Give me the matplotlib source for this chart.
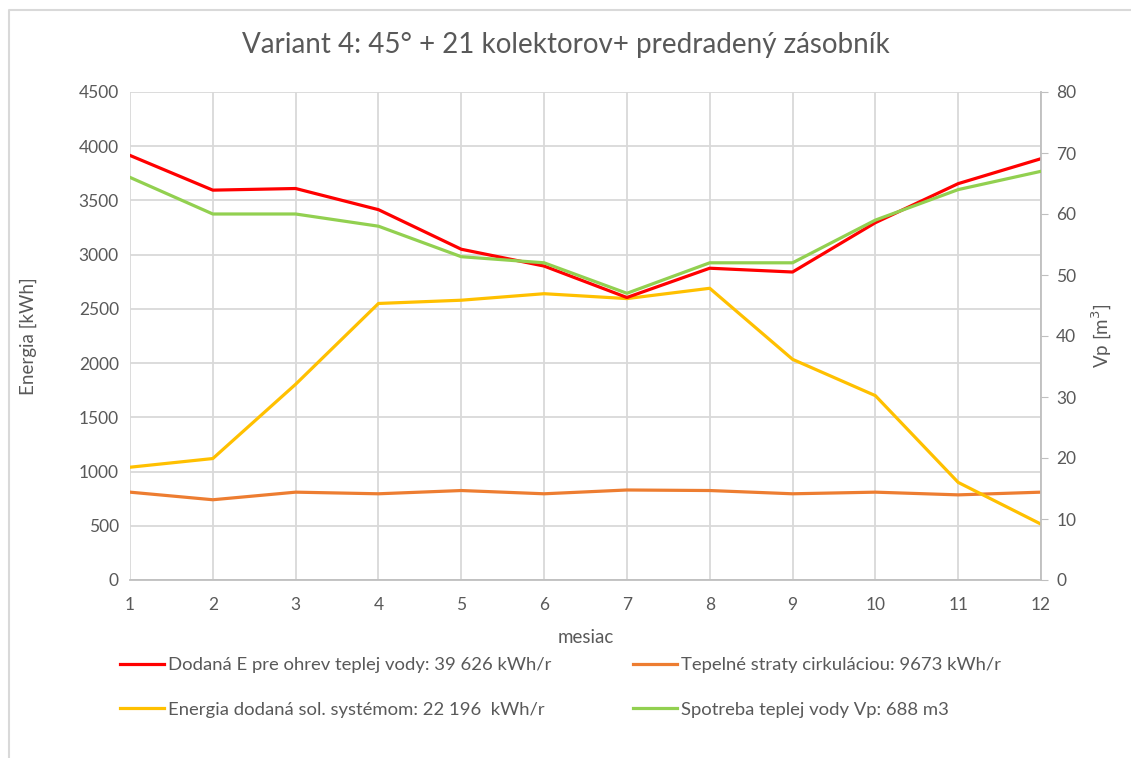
import matplotlib.pyplot as plt
from matplotlib.lines import Line2D

# data
mesiac = [1, 2, 3, 4, 5, 6, 7, 8, 9, 10, 11, 12]
dodana_e = [3915, 3595, 3610, 3415, 3050, 2895, 2605, 2875, 2840, 3295, 3655, 3885]
straty_cirk = [810, 740, 810, 795, 825, 795, 830, 825, 795, 810, 785, 810]
sol_system = [1040, 1120, 1805, 2550, 2580, 2640, 2595, 2690, 2035, 1700, 900, 515]
spotreba_vp = [66, 60, 60, 58, 53, 52, 47, 52, 52, 59, 64, 67]

legend_labels = [
    'Dodaná E pre ohrev teplej vody: 39 626 kWh/r',
    'Energia dodaná sol. systémom: 22 196  kWh/r',
    'Tepelné straty cirkuláciou: 9673 kWh/r',
    'Spotreba teplej vody Vp: 688 m3',
]

plt.rcParams['font.family'] = ['Lato', 'DejaVu Sans']
txt = '#595959'
grid_c = '#D9D9D9'

fig = plt.figure(figsize=(11.31, 7.58), dpi=100)
ax1 = fig.add_axes([130 / 1131, 1 - 580 / 758, (1041 - 130) / 1131, (580 - 92) / 758])
ax2 = ax1.twinx()

l1, = ax1.plot(mesiac, dodana_e, color='#FF0000', lw=2.3, zorder=4)
l2, = ax1.plot(mesiac, straty_cirk, color='#ED7D31', lw=2.3, zorder=3)
l3, = ax1.plot(mesiac, sol_system, color='#FFC000', lw=2.3, zorder=3)
l4, = ax2.plot(mesiac, spotreba_vp, color='#92D050', lw=2.3, zorder=3)

ax1.set_xlim(1, 12)
ax1.set_ylim(0, 4500)
ax2.set_ylim(0, 80)
ax1.set_xticks(mesiac)
ax1.set_yticks(range(0, 4501, 500))
ax2.set_yticks(range(0, 81, 10))
ax1.grid(True, color=grid_c, lw=1.3)
ax1.set_axisbelow(True)

for ax in (ax1, ax2):
    for s in ax.spines.values():
        s.set_visible(False)
ax1.spines['bottom'].set_visible(True)
ax1.spines['bottom'].set_color('#BFBFBF')
ax1.spines['bottom'].set_linewidth(1.3)
ax2.spines['right'].set_visible(True)
ax2.spines['right'].set_color('#BFBFBF')
ax2.spines['right'].set_linewidth(1.3)

ax1.tick_params(axis='both', length=0, labelsize=12.5, colors=txt, pad=8)
ax1.tick_params(axis='x', pad=12)
ax2.tick_params(axis='y', length=5, color='#BFBFBF', labelsize=12.5, labelcolor=txt, pad=6)

ax1.set_ylabel('Energia [kWh]', fontsize=13.5, color=txt, labelpad=30)
ax2.set_ylabel('Vp [m$^3$]', fontsize=13.5, color=txt, labelpad=10)
ax1.set_xlabel('mesiac', fontsize=13.5, color=txt, labelpad=12)

fig.text(0.5, 1 - 45 / 758, 'Variant 4: 45° + 21 kolektorov+ predradený zásobník',
         ha='center', va='center', fontsize=20, color=txt)

fig.legend([l1, l3, l2, l4], legend_labels, ncol=2, loc='upper left',
           bbox_to_anchor=(120 / 1131, 1 - 657 / 758), frameon=False,
           borderpad=0, borderaxespad=0,
           fontsize=13.3, labelcolor=txt, handlelength=2.4, handletextpad=0.2,
           columnspacing=4.4, labelspacing=1.55)

# chart frame (left and top edges visible in the reference)
fig.add_artist(Line2D([9 / 1131, 9 / 1131, 1.0], [0.0, 1 - 10 / 758, 1 - 10 / 758],
                      transform=fig.transFigure, color='#D9D9D9', lw=1.5))

fig.savefig('out.png', dpi=100)
